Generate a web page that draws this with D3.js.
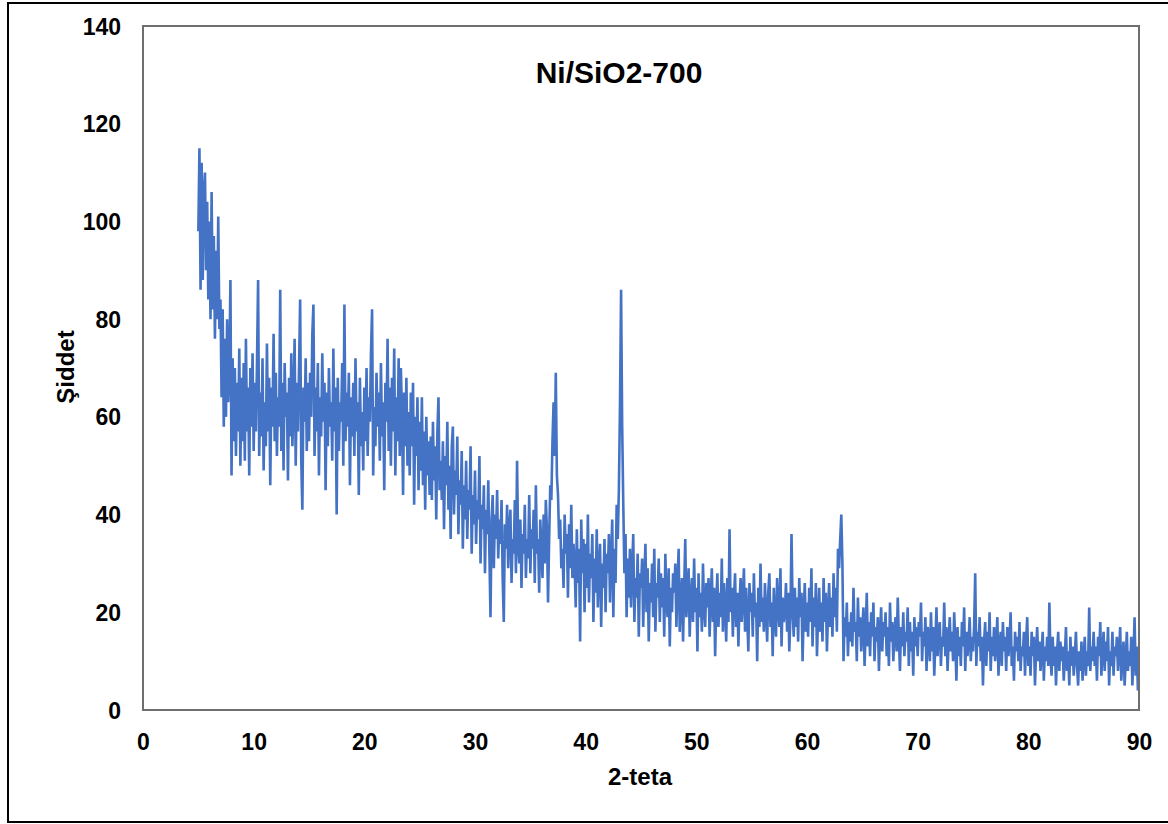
<!DOCTYPE html>
<html>
<head>
<meta charset="utf-8">
<script src="https://cdn.jsdelivr.net/npm/d3@7"></script>
<style>
  html, body { margin: 0; padding: 0; background: #fff; }
  svg { display: block; }
  text { font-family: "Liberation Sans", Arial, sans-serif; font-weight: bold; fill: #000; }
</style>
</head>
<body>
<svg id="chart" width="1168" height="824"></svg>
<script>
// XRD pattern of Ni/SiO2 calcined at 700 °C
const chartTitle = "Ni/SiO2-700";
const xAxisTitle = "2-teta";
const yAxisTitle = "Şiddet";
const xTicks = [0, 10, 20, 30, 40, 50, 60, 70, 80, 90];
const yTicks = [0, 20, 40, 60, 80, 100, 120, 140];

// scan grid (degrees 2θ)
const twoThetaStart = 5.0;
const twoThetaStep = 0.1;

// measured intensity, one row per degree (x.0 … x.9)
const intensity = [
  98, 115, 86, 112, 88, 106, 110, 90, 104, 84,   // 5
  100, 80, 106, 82, 97, 76, 94, 80, 101, 78,     // 6
  84, 64, 82, 58, 76, 60, 80, 63, 70, 88,        // 7
  48, 72, 55, 70, 52, 67, 57, 74, 50, 68,        // 8
  55, 71, 51, 76, 57, 66, 48, 70, 58, 73,        // 9
  53, 67, 57, 71, 88, 52, 65, 56, 72, 49,        // 10
  63, 54, 75, 57, 68, 46, 66, 58, 77, 55,        // 11
  69, 52, 64, 58, 86, 53, 67, 49, 71, 60,        // 12
  65, 47, 68, 56, 73, 54, 63, 76, 50, 67,        // 13
  57, 70, 84, 51, 41, 66, 59, 72, 53, 67,        // 14
  55, 69, 60, 77, 83, 52, 66, 57, 71, 48,        // 15
  64, 56, 73, 59, 67, 45, 65, 54, 70, 58,        // 16
  63, 51, 74, 57, 66, 40, 68, 53, 63, 59,        // 17
  71, 50, 83, 55, 65, 58, 69, 46, 64, 56,        // 18
  67, 52, 72, 57, 63, 44, 68, 54, 61, 49,        // 19
  66, 55, 70, 52, 64, 59, 73, 82, 48, 62,        // 20
  54, 69, 58, 65, 51, 71, 56, 63, 45, 67,        // 21
  59, 76, 53, 66, 50, 68, 57, 74, 48, 64,        // 22
  55, 72, 52, 70, 61, 44, 65, 54, 68, 50,        // 23
  61, 48, 65, 54, 67, 42, 60, 52, 64, 45,        // 24
  59, 49, 64, 46, 57, 41, 60, 48, 55, 44,        // 25
  56, 43, 59, 47, 54, 39, 57, 64, 45, 51,        // 26
  43, 55, 37, 52, 46, 59, 41, 50, 35, 54,        // 27
  58, 40, 49, 44, 56, 36, 47, 42, 53, 33,        // 28
  46, 39, 51, 35, 45, 41, 54, 32, 44, 38,        // 29
  49, 34, 43, 39, 52, 30, 42, 37, 46, 28,        // 30
  41, 36, 47, 32, 19, 39, 44, 29, 40, 35,        // 31
  45, 31, 39, 34, 43, 27, 18, 38, 33, 42,        // 32
  29, 37, 41, 26, 35, 32, 43, 28, 51, 34,        // 33
  30, 39, 25, 36, 32, 42, 27, 35, 31, 44,        // 34
  28, 37, 33, 41, 26, 46, 32, 35, 24, 39,        // 35
  33, 27, 40, 30, 43, 37, 22, 35, 46, 43,        // 36
  55, 63, 52, 69, 48, 44, 35, 39, 29, 33,        // 37
  25, 40, 32, 36, 23, 38, 29, 42, 27, 34,        // 38
  30, 21, 37, 26, 33, 14, 39, 28, 35, 20,        // 39
  34, 25, 40, 22, 32, 27, 36, 18, 31, 24,        // 40
  37, 21, 29, 34, 17, 30, 25, 35, 20, 32,        // 41
  28, 36, 22, 31, 39, 19, 33, 26, 42, 35,        // 42
  45, 62, 86, 58, 42, 28, 36, 19, 31, 23,        // 43
  33, 21, 29, 36, 18, 27, 23, 32, 15, 28,        // 44
  25, 31, 17, 27, 34, 20, 29, 14, 26, 22,        // 45
  30, 19, 33, 16, 26, 23, 31, 18, 28, 21,        // 46
  27, 15, 32, 22, 19, 29, 13, 25, 20, 28,        // 47
  24, 30, 17, 26, 33, 16, 22, 27, 14, 25,        // 48
  35, 19, 24, 29, 15, 23, 27, 18, 31, 20,        // 49
  25, 12, 28, 19, 24, 16, 30, 21, 17, 26,        // 50
  21, 27, 15, 23, 29, 18, 25, 11, 22, 28,        // 51
  17, 24, 19, 31, 16, 26, 21, 14, 27, 18,        // 52
  37, 20, 25, 15, 23, 28, 17, 24, 13, 22,        // 53
  27, 18, 23, 29, 16, 25, 19, 12, 26, 20,        // 54
  24, 15, 28, 19, 22, 10, 25, 17, 30, 18,        // 55
  23, 16, 26, 20, 14, 24, 28, 17, 22, 11,        // 56
  25, 19, 15, 27, 21, 17, 29, 13, 23, 18,        // 57
  20, 26, 16, 24, 12, 19, 36, 21, 15, 25,        // 58
  17, 23, 14, 27, 19, 24, 10, 20, 26, 16,        // 59
  22, 15, 25, 18, 29, 13, 23, 17, 26, 11,        // 60
  19, 25, 16, 22, 14, 27, 18, 24, 12, 20,        // 61
  26, 17, 23, 15, 28, 19, 25, 16, 33, 29,        // 62
  35, 40, 30, 10, 19, 15, 22, 11, 18, 14,        // 63
  20, 13, 25, 16, 18, 10, 23, 15, 19, 12,        // 64
  17, 21, 9, 16, 24, 13, 18, 11, 20, 15,         // 65
  22, 10, 17, 14, 19, 8, 16, 21, 12, 18,         // 66
  15, 20, 11, 17, 9, 22, 14, 18, 10, 16,         // 67
  19, 12, 23, 15, 8, 17, 13, 20, 11, 16,         // 68
  14, 21, 9, 18, 12, 16, 7, 19, 13, 17,          // 69
  11, 18, 15, 22, 10, 16, 13, 19, 8, 17,         // 70
  15, 10, 20, 12, 17, 7, 14, 21, 11, 16,         // 71
  18, 9, 15, 13, 22, 11, 17, 8, 14, 19,          // 72
  12, 16, 10, 20, 14, 6, 17, 11, 15, 9,          // 73
  18, 13, 21, 8, 16, 11, 14, 19, 10, 15,         // 74
  12, 17, 28, 9, 16, 13, 19, 10, 15, 5,          // 75
  14, 18, 9, 16, 12, 20, 8, 15, 11, 17,          // 76
  10, 14, 19, 7, 13, 16, 9, 18, 12, 15,          // 77
  8, 17, 11, 14, 20, 9, 13, 6, 16, 12,           // 78
  15, 10, 18, 8, 13, 11, 16, 7, 14, 19,          // 79
  9, 13, 7, 16, 11, 15, 5, 12, 17, 10,           // 80
  14, 8, 12, 16, 6, 13, 10, 15, 9, 22,           // 81
  11, 7, 15, 9, 13, 5, 12, 16, 8, 14,            // 82
  10, 13, 6, 11, 17, 8, 12, 5, 15, 9,            // 83
  13, 7, 11, 16, 9, 5, 12, 8, 14, 6,             // 84
  11, 15, 7, 12, 9, 21, 8, 13, 10, 16,           // 85
  9, 13, 6, 15, 11, 18, 7, 12, 16, 8,            // 86
  14, 10, 17, 5, 12, 9, 16, 7, 13, 11,           // 87
  15, 8, 12, 17, 6, 11, 14, 5, 10, 16,           // 88
  8, 12, 9, 15, 5, 11, 19, 7, 13, 4,             // 89
  10                                             // 90
];

const svg = d3.select("#chart");

// outer picture frame
svg.append("rect")
  .attr("x", 8).attr("y", 3)
  .attr("width", 1170).attr("height", 819)
  .attr("fill", "none").attr("stroke", "#000").attr("stroke-width", 2);

const plot = { left: 143, right: 1139, top: 26, bottom: 710 };

const x = d3.scaleLinear().domain([0, 90]).range([plot.left, plot.right]);
const y = d3.scaleLinear().domain([0, 140]).range([plot.bottom, plot.top]);

const points = intensity.map((v, i) => [twoThetaStart + i * twoThetaStep, v]);

// clip so the trace stays inside the plot frame
svg.append("clipPath").attr("id", "plot-clip")
  .append("rect")
  .attr("x", plot.left).attr("y", plot.top)
  .attr("width", plot.right - plot.left).attr("height", plot.bottom - plot.top);

const line = d3.line().x(d => x(d[0])).y(d => y(d[1]));

svg.append("path")
  .datum(points)
  .attr("clip-path", "url(#plot-clip)")
  .attr("d", line)
  .attr("fill", "none")
  .attr("stroke", "#4472C4")
  .attr("stroke-width", 2.6)
  .attr("stroke-linejoin", "miter");

// plot area border
svg.append("rect")
  .attr("x", plot.left).attr("y", plot.top)
  .attr("width", plot.right - plot.left).attr("height", plot.bottom - plot.top)
  .attr("fill", "none").attr("stroke", "#6e6e6e").attr("stroke-width", 2);

// axes (labels only, no tick marks)
const xAxis = d3.axisBottom(x).tickValues(xTicks).tickSize(0).tickPadding(0);
const yAxis = d3.axisLeft(y).tickValues(yTicks).tickSize(0).tickPadding(0);

const gx = svg.append("g").attr("transform", `translate(0,${plot.bottom})`).call(xAxis);
gx.select(".domain").remove();
gx.selectAll("text")
  .attr("dy", null).attr("y", 40)
  .style("font-size", "23px")
  .style("font-family", "'Liberation Sans', Arial, sans-serif")
  .style("font-weight", "bold").attr("fill", "#000");

const gy = svg.append("g").attr("transform", `translate(${plot.left},0)`).call(yAxis);
gy.select(".domain").remove();
gy.selectAll("text")
  .attr("x", -22).attr("dy", "0.35em")
  .style("font-size", "23px")
  .style("font-family", "'Liberation Sans', Arial, sans-serif")
  .style("font-weight", "bold").attr("fill", "#000");

// titles
svg.append("text")
  .attr("x", 619).attr("y", 83)
  .attr("text-anchor", "middle")
  .style("font-size", "30px")
  .text(chartTitle);

svg.append("text")
  .attr("x", 640).attr("y", 785)
  .attr("text-anchor", "middle")
  .style("font-size", "24px")
  .text(xAxisTitle);

svg.append("text")
  .attr("transform", "translate(74,367) rotate(-90)")
  .attr("text-anchor", "middle")
  .style("font-size", "24px")
  .text(yAxisTitle);
</script>
</body>
</html>
